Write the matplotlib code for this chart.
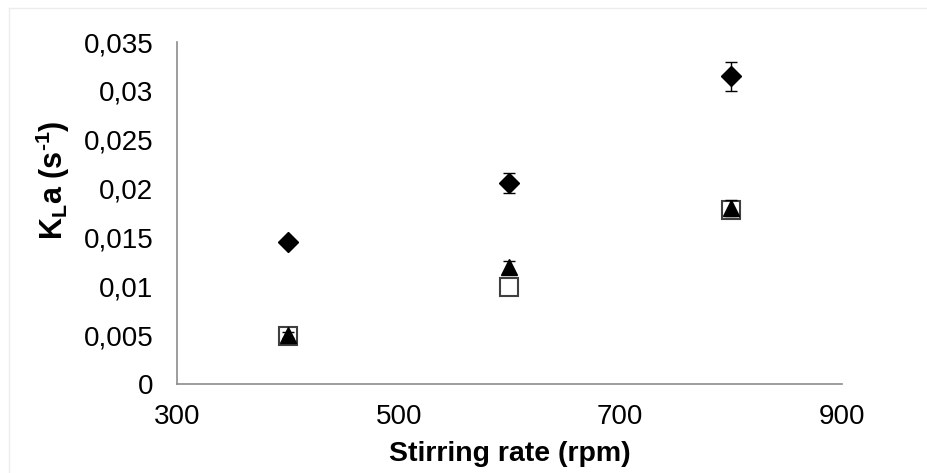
import matplotlib
matplotlib.use("Agg")
import matplotlib.pyplot as plt
from matplotlib.ticker import FuncFormatter, MultipleLocator
from matplotlib.lines import Line2D

plt.rcParams['font.family'] = ['Liberation Sans', 'DejaVu Sans']
plt.rcParams['mathtext.fontset'] = 'custom'
plt.rcParams['mathtext.rm'] = 'Liberation Sans:bold'
plt.rcParams['mathtext.bf'] = 'Liberation Sans:bold'
plt.rcParams['mathtext.it'] = 'Liberation Sans:bold'
plt.rcParams['mathtext.default'] = 'bf'

stirring_rate = [400, 600, 800]
kla_diamond = [0.0145, 0.0206, 0.0315]
err_diamond = [0.0003, 0.001, 0.0015]
kla_square = [0.0049, 0.0099, 0.0178]
kla_triangle = [0.0050, 0.0120, 0.0180]
err_triangle = [0.0003, 0.0006, 0.0008]
x_ticks = [300, 500, 700, 900]

fig = plt.figure(figsize=(9.27, 4.73), dpi=100)
ax = fig.add_axes([0.191, 0.188, 0.717, 0.723])

ax.plot(stirring_rate, kla_square, linestyle='none', marker='s', markersize=13.5,
        markerfacecolor='white', markeredgecolor='#404040', markeredgewidth=1.5, zorder=3)
ax.errorbar(stirring_rate, kla_triangle, yerr=err_triangle, linestyle='none', marker='^',
            markersize=11, color='black', ecolor='black', elinewidth=1, capsize=4, zorder=4)
ax.errorbar(stirring_rate, kla_diamond, yerr=err_diamond, linestyle='none', marker='D',
            markersize=10, color='black', ecolor='black', elinewidth=1, capsize=4, zorder=4)

ax.set_xlim(300, 900)
ax.set_ylim(0, 0.035)
ax.set_xticks(x_ticks)
ax.set_xticklabels([str(t) for t in x_ticks])
ax.yaxis.set_major_locator(MultipleLocator(0.005))

def comma_fmt(v, pos):
    s = f"{v:.3f}".rstrip('0').rstrip('.')
    if s in ('', '-0'):
        s = '0'
    return s.replace('.', ',')

ax.yaxis.set_major_formatter(FuncFormatter(comma_fmt))
ax.tick_params(axis='both', length=0, labelsize=20, colors='black')
ax.tick_params(axis='x', pad=14)
ax.tick_params(axis='y', pad=17)

for side in ('top', 'right'):
    ax.spines[side].set_visible(False)
for side in ('left', 'bottom'):
    ax.spines[side].set_color('#8c8c8c')
    ax.spines[side].set_linewidth(1.2)

ax.set_xlabel('Stirring rate (rpm)', fontsize=20.5, fontweight='bold', labelpad=8)
ax.set_ylabel('K$_{L}$a (s$^{\u20101}$)', fontsize=22, fontweight='bold')
ax.yaxis.set_label_coords(-0.158, 0.596)

# faint chart-area frame along the left and top edges
frame_x = 8.5 / 927
frame_y = 1 - 8.5 / 473
fig.add_artist(Line2D([frame_x, frame_x], [0, frame_y], transform=fig.transFigure,
                      color='#ececec', linewidth=1))
fig.add_artist(Line2D([frame_x, 1], [frame_y, frame_y], transform=fig.transFigure,
                      color='#ececec', linewidth=1))

fig.savefig('out.png', dpi=100)
